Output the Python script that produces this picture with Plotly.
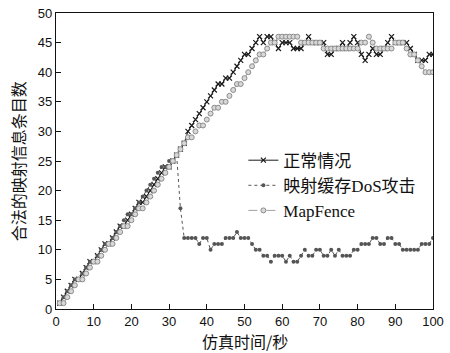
import plotly.graph_objects as go

time_s = list(range(1, 101))

normal = [1, 2, 3, 4, 5, 5, 6, 7, 8, 8,
          9, 10, 11, 11, 12, 13, 14, 14, 15, 16,
          17, 18, 18, 19, 20, 21, 22, 23, 24, 24,
          25, 26, 27, 28, 30, 31, 32, 33, 34, 35,
          36, 37, 38, 38, 39, 39, 40, 41, 42, 43,
          43, 44, 45, 46, 45, 46, 46, 45, 44, 45,
          45, 45, 44, 44, 44, 45, 46, 45, 45, 45,
          45, 43, 43, 44, 44, 45, 44, 45, 46, 45,
          43, 42, 43, 44, 43, 43, 44, 45, 46, 45,
          45, 45, 45, 44, 43, 42, 42, 42, 43, 43]

attack = [1, 2, 3, 4, 5, 5, 6, 7, 8, 8,
          9, 10, 11, 11, 12, 13, 14, 15, 16, 16,
          17, 18, 19, 20, 21, 22, 23, 24, 24, 25,
          25, 26, 17, 12, 12, 12, 12, 11, 12, 12,
          10, 11, 11, 11, 12, 12, 12, 13, 12, 12,
          12, 11, 10, 10, 9, 9, 8, 9, 9, 9,
          8, 9, 8, 8, 9, 10, 9, 9, 10, 10,
          9, 9, 10, 9, 10, 9, 9, 9, 10, 10,
          11, 11, 11, 12, 12, 11, 11, 12, 12, 11,
          11, 10, 10, 10, 10, 10, 11, 11, 11, 12]

mapfence = [1, 1, 2, 3, 4, 5, 5, 6, 7, 8,
            8, 9, 10, 11, 11, 12, 13, 14, 14, 15,
            16, 17, 17, 18, 19, 20, 21, 22, 23, 24,
            25, 26, 27, 28, 29, 29, 30, 31, 31, 32,
            33, 34, 34, 35, 35, 36, 37, 38, 38, 39,
            40, 41, 42, 43, 43, 44, 45, 45, 46, 46,
            46, 46, 46, 46, 45, 45, 45, 45, 45, 45,
            44, 44, 44, 44, 44, 44, 44, 44, 44, 44,
            45, 45, 46, 45, 44, 44, 44, 44, 44, 45,
            45, 45, 44, 43, 43, 42, 41, 40, 40, 40]

series_names = ["正常情况", "映射缓存DoS攻击", "MapFence"]
x_title = "仿真时间/秒"
y_title = "合法的映射信息条目数"
x_ticks = list(range(0, 101, 10))
y_ticks = list(range(0, 51, 5))

fig = go.Figure()
fig.add_trace(go.Scatter(
    x=time_s, y=normal, name=series_names[0], mode="lines+markers",
    line=dict(color="#1a1a1a", width=1),
    marker=dict(symbol="x-thin", size=5, line=dict(color="#1a1a1a", width=1.2)),
))
fig.add_trace(go.Scatter(
    x=time_s, y=attack, name=series_names[1], mode="lines+markers",
    line=dict(color="#555555", width=1, dash="dot"),
    marker=dict(symbol="circle", size=4, color="#555555"),
))
fig.add_trace(go.Scatter(
    x=time_s, y=mapfence, name=series_names[2], mode="lines+markers",
    line=dict(color="#a0a0a0", width=1, dash="dash"),
    marker=dict(symbol="circle", size=5, color="#d8d8d8",
                line=dict(color="#8c8c8c", width=1)),
))

tick_font = dict(family="Liberation Sans, Arial, sans-serif", size=13, color="#111")
title_font = dict(family="Noto Sans CJK SC", size=16, color="#111")
fig.update_layout(
    width=450, height=353,
    margin=dict(l=56, r=17, t=13, b=44, autoexpand=False),
    paper_bgcolor="white", plot_bgcolor="white",
    showlegend=True,
    legend=dict(x=0.497, y=0.562, xanchor="left", yanchor="top",
                bgcolor="rgba(0,0,0,0)", tracegroupgap=0,
                font=dict(family="Liberation Serif, Noto Sans CJK SC, serif", size=17, color="#111"),
                itemwidth=30),
    xaxis=dict(range=[0, 100], tickvals=x_ticks, ticks="inside", ticklen=5,
               tickcolor="#111", showline=True, linecolor="#111", linewidth=1.3,
               mirror=True, showgrid=False, zeroline=False, tickfont=tick_font,
               automargin=False),
    yaxis=dict(range=[0, 50], tickvals=y_ticks, ticks="inside", ticklen=5,
               tickcolor="#111", showline=True, linecolor="#111", linewidth=1.3,
               mirror=True, showgrid=False, zeroline=False, tickfont=tick_font,
               automargin=False, ticklabelstandoff=0),
    annotations=[
        dict(text=x_title, xref="paper", yref="paper", x=0.5, y=-0.108,
             xanchor="center", yanchor="middle", showarrow=False, font=title_font),
        dict(text=y_title, xref="paper", yref="paper", x=-0.1, y=0.5,
             xanchor="center", yanchor="middle", textangle=-90,
             showarrow=False, font=title_font),
    ],
)

fig.write_html("out.html", config={"displayModeBar": False},
               post_script="document.body.style.margin='0';document.body.style.padding='0';")
